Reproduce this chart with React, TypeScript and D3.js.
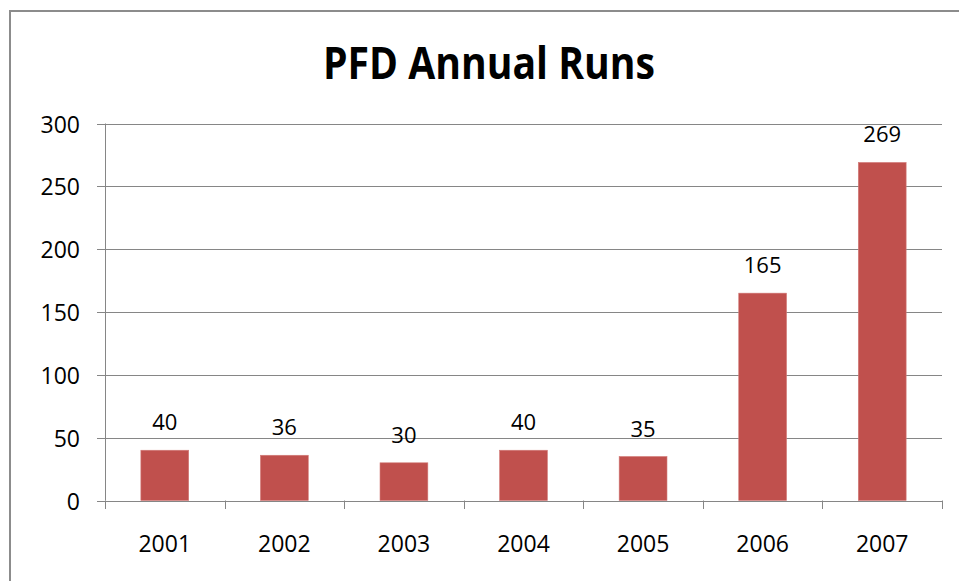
import React from "react";
import * as d3 from "d3";

const years = ["2001", "2002", "2003", "2004", "2005", "2006", "2007"];
const runs = [40, 36, 30, 40, 35, 165, 269];
const yTicks = [0, 50, 100, 150, 200, 250, 300];
const title = "PFD Annual Runs";

const W = 959;
const H = 581;
const left = 105;
const right = 942;
const top = 123.5;
const bottom = 500.5;
const FONT = "'Open Sans', 'DejaVu Sans', sans-serif";

export default function App() {
  const x = d3.scaleBand<string>().domain(years).range([left, right]).paddingInner(0.6).paddingOuter(0.3);
  const y = d3.scaleLinear().domain([0, 300]).range([bottom, top]);
  const step = x.step();
  const gridColor = "#868686";

  return (
    <svg width={W} height={H} style={{ position: "absolute", left: 0, top: 0, background: "#fff" }}>
      <rect x={0} y={0} width={W} height={H} fill="#fff" />
      <rect x={10} y={11} width={W + 20} height={H + 20} fill="none" stroke="#8c8c8c" strokeWidth={2} />
      <text
        x={489}
        y={79}
        textAnchor="middle"
        fontFamily={FONT}
        fontWeight="bold"
        fontSize={45}
        textLength={332}
        lengthAdjust="spacingAndGlyphs"
        fill="#000"
      >
        {title}
      </text>
      {yTicks.map((t) => (
        <g key={t}>
          <line x1={97} x2={t === 0 ? left : right} y1={Math.round(y(t)) + 0.5} y2={Math.round(y(t)) + 0.5} stroke={gridColor} strokeWidth={1} />
          <text x={80} y={y(t) + 9} textAnchor="end" fontFamily={FONT} fontSize={23} fill="#000">
            {t}
          </text>
        </g>
      ))}
      <line x1={right} x2={right} y1={bottom} y2={bottom} stroke={gridColor} />
      {runs.map((v, i) => (
        <g key={years[i]}>
          <rect
            x={x(years[i])!}
            y={y(v)}
            width={x.bandwidth()}
            height={bottom - y(v)}
            fill="#C0504D"
            stroke="#d27b78"
            strokeWidth={0.6}
          />
          <text
            x={x(years[i])! + x.bandwidth() / 2}
            y={y(v) - 20}
            textAnchor="middle"
            fontFamily={FONT}
            fontSize={22}
            fill="#000"
          >
            {v}
          </text>
          <text
            x={x(years[i])! + x.bandwidth() / 2}
            y={552}
            textAnchor="middle"
            fontFamily={FONT}
            fontSize={23}
            fill="#000"
          >
            {years[i]}
          </text>
        </g>
      ))}
      {d3.range(years.length + 1).map((i) => (
        <line key={i} x1={Math.round(left + i * step) + 0.5} x2={Math.round(left + i * step) + 0.5} y1={bottom} y2={509} stroke={gridColor} />
      ))}
      <line x1={left + 0.5} x2={left + 0.5} y1={top} y2={bottom} stroke={gridColor} />
      <line x1={left} x2={right} y1={Math.round(bottom) + 0.5} y2={Math.round(bottom) + 0.5} stroke={gridColor} />
    </svg>
  );
}
